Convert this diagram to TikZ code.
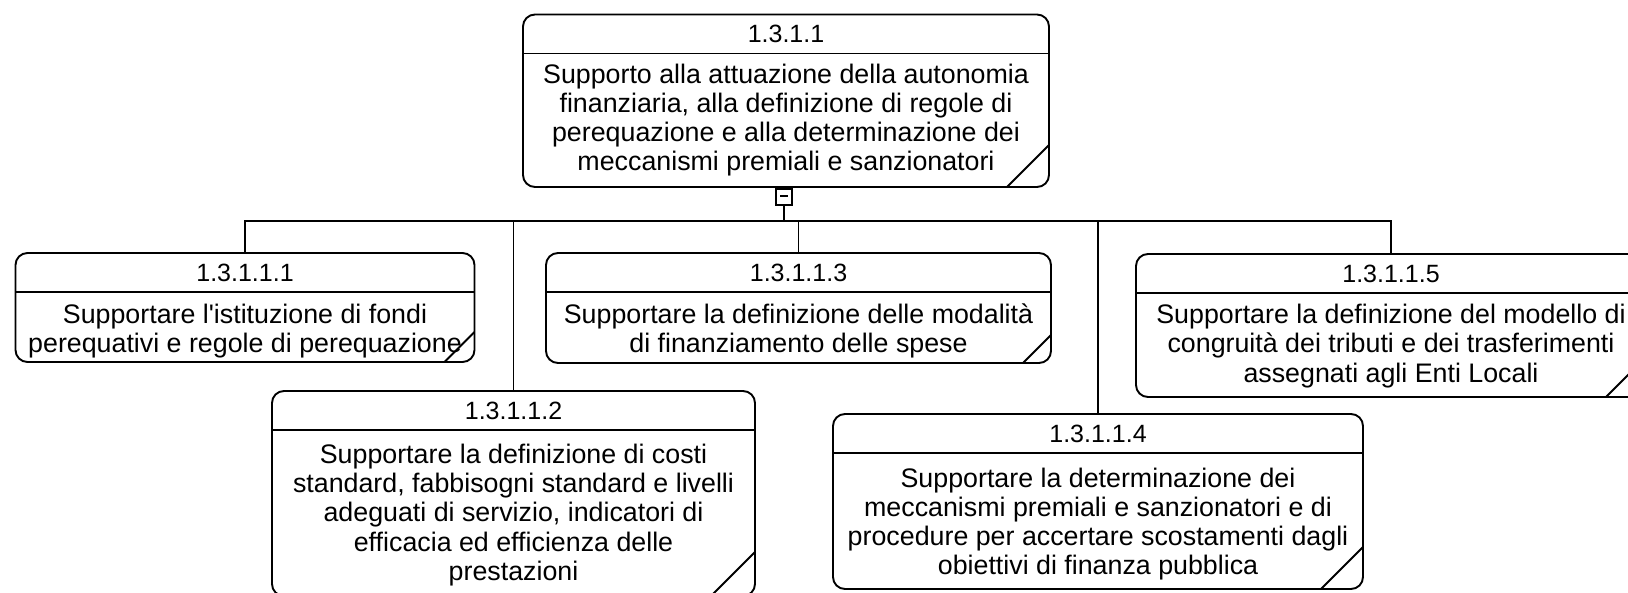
\documentclass[tikz,border=0pt]{standalone}
\usepackage{fontspec}
\setmainfont{Liberation Sans}
\usepackage{tikz}
\usetikzlibrary{positioning}

\begin{document}
\begin{tikzpicture}[x=0.5pt, y=-0.5pt, line width=0.95pt,
    fold size/.store in=\foldsize, fold size=14pt,
    taskbox/.style 2 args={draw, rounded corners=6pt, inner sep=0pt,
        minimum width=#1*0.5pt, minimum height=#2*0.5pt,
        path picture={
            \draw ([yshift=-19.5pt]path picture bounding box.north west) -- ([yshift=-19.5pt]path picture bounding box.north east);
            \draw ([xshift=-\foldsize]path picture bounding box.south east) -- ([yshift=\foldsize]path picture bounding box.south east);
        }},
    idtext/.style={font=\fontsize{12.5}{15}\selectfont},
    bodytext/.style={font=\fontsize{13.4}{14.6}\selectfont, align=center}]
    \useasboundingbox (0,0) rectangle (1628,593);
    \clip (0,0) rectangle (1628,593);
    \node[taskbox={526}{172.5}, fold size=21pt] (root) at (786,100.75) {};
    \node[idtext] (rootid) at (786,34) {1.3.1.1};
    \node[bodytext] (roottxt) at (786,120) {Supporto alla attuazione della autonomia\\finanziaria, alla definizione di regole di\\perequazione e alla determinazione dei\\meccanismi premiali e sanzionatori};
    \node[draw, line width=0.7pt, minimum size=8pt, inner sep=0pt] (minus) at (784,197) {\rule[1pt]{4pt}{0.8pt}};
    \coordinate (bus) at (0,221);
    \node[taskbox={459}{109}, fold size=15pt] (t1) at (245,307.5) {};
    \node[idtext] (t1id) at (245,272.5) {1.3.1.1.1};
    \node[bodytext] (t1txt) at (245,331) {Supportare l\textquotesingle istituzione di fondi\\perequativi e regole di perequazione};
    \node[taskbox={483}{205}, fold size=22pt] (t2) at (513.5,493.5) {};
    \node[idtext] (t2id) at (513.5,411) {1.3.1.1.2};
    \node[bodytext] (t2txt) at (513.5,515) {Supportare la definizione di costi\\standard, fabbisogni standard e livelli\\adeguati di servizio, indicatori di\\efficacia ed efficienza delle\\prestazioni};
    \node[taskbox={505}{110}, fold size=14pt] (t3) at (798.5,308) {};
    \node[idtext] (t3id) at (798.5,272.5) {1.3.1.1.3};
    \node[bodytext] (t3txt) at (798.5,331) {Supportare la definizione delle modalità\\di finanziamento delle spese};
    \node[taskbox={530}{175}, fold size=21pt] (t4) at (1098,501.5) {};
    \node[idtext] (t4id) at (1098,433.5) {1.3.1.1.4};
    \node[bodytext] (t4txt) at (1098,524) {Supportare la determinazione dei\\meccanismi premiali e sanzionatori e di\\procedure per accertare scostamenti dagli\\obiettivi di finanza pubblica};
    \node[taskbox={510}{143}, fold size=20pt] (t5) at (1391,325.5) {};
    \node[idtext] (t5id) at (1391,273.5) {1.3.1.1.5};
    \node[bodytext] (t5txt) at (1391,346) {Supportare la definizione del modello di\\congruità dei tributi e dei trasferimenti\\assegnati agli Enti Locali};
    % tree connectors
    \draw (root.south -| minus.north) -- (minus.north);
    \draw (minus) -- (minus |- bus);
    \draw (t1) -- (t1 |- bus) -| (t5);
    \draw (t2) -- (t2 |- bus);
    \draw (t3) -- (t3 |- bus);
    \draw (t4) -- (t4 |- bus);
\end{tikzpicture}
\end{document}
